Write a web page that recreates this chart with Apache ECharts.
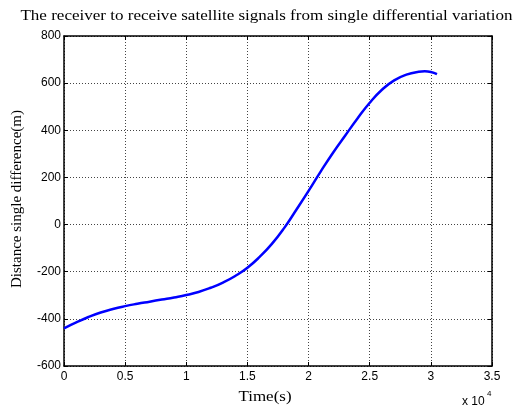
<!DOCTYPE html>
<html>
<head>
<meta charset="utf-8">
<script src="https://cdn.jsdelivr.net/npm/echarts@6/dist/echarts.min.js"></script>
<style>html,body{margin:0;padding:0;background:#fff;}#c{width:522px;height:410px;}</style>
</head>
<body>
<div id="c"></div>
<script>
const timeSeconds = [0, 1000, 2000, 3000, 4000, 5000, 6000, 7000, 8000, 9000, 10000, 11000, 12000, 13000, 14000, 15000, 16000, 17000, 18000, 19000, 20000, 21000, 22000, 23000, 24000, 25000, 26000, 27000, 28000, 29000, 29500, 30000, 30500];
const singleDiff = [-440, -415, -392, -373, -358, -346, -336, -327, -318, -309, -299, -286, -268, -246, -218, -183, -137, -82, -15, 63, 143, 226, 305, 378, 450, 517, 572, 612, 636, 648, 650, 647, 638];
const xTicks = [0, 0.5, 1, 1.5, 2, 2.5, 3, 3.5];
const yTicks = [-600, -400, -200, 0, 200, 400, 600, 800];

const chart = echarts.init(document.getElementById('c'), null, {renderer: 'canvas'});
const pts = timeSeconds.map((t, i) => [t, singleDiff[i]]);
const tickFont = {fontFamily: 'Liberation Sans, Arial', fontSize: 12, color: '#000'};
const serif = '15px "Liberation Serif", "Times New Roman"';
chart.setOption({
  animation: false,
  backgroundColor: '#fff',
  grid: {left: 64, right: 30, top: 36, bottom: 44},
  xAxis: [{
    type: 'value', min: 0, max: 35000, interval: 5000, position: 'bottom',
    axisLine: {onZero: false, lineStyle: {color: '#000', width: 1.5}},
    axisTick: {inside: true, length: 4, lineStyle: {color: '#000'}},
    axisLabel: Object.assign({margin: 5, formatter: v => String(xTicks[Math.round(v / 5000)])}, tickFont),
    splitLine: {show: true, lineStyle: {color: '#444', type: [1, 2], width: 1}}
  }, {
    type: 'value', min: 0, max: 35000, interval: 5000, position: 'top',
    axisLine: {onZero: false, lineStyle: {color: '#000', width: 1.5}},
    axisTick: {inside: true, length: 4, lineStyle: {color: '#000'}},
    axisLabel: {show: false}, splitLine: {show: false}
  }],
  yAxis: [{
    type: 'value', min: -600, max: 800, interval: 200, position: 'left',
    axisLine: {show: true, onZero: false, lineStyle: {color: '#000', width: 1.5}},
    axisTick: {show: true, inside: true, length: 4, lineStyle: {color: '#000'}},
    axisLabel: Object.assign({margin: 3, formatter: v => String(v)}, tickFont),
    splitLine: {show: true, lineStyle: {color: '#444', type: [1, 2], width: 1}}
  }, {
    type: 'value', min: -600, max: 800, interval: 200, position: 'right',
    axisLine: {show: true, onZero: false, lineStyle: {color: '#000', width: 1.5}},
    axisTick: {show: true, inside: true, length: 4, lineStyle: {color: '#000'}},
    axisLabel: {show: false}, splitLine: {show: false}
  }],
  series: [{
    type: 'line', data: pts, xAxisIndex: 0, yAxisIndex: 0,
    smooth: 0.5, showSymbol: false,
    lineStyle: {color: '#0000ff', width: 2.5}
  }],
  graphic: [
    {type: 'text', x: 266.5, y: 16, scaleX: 1.136, style: {text: 'The receiver to receive satellite signals from single differential variation', x: 0, y: 0, textAlign: 'center', textVerticalAlign: 'middle', font: serif, fill: '#000'}},
    {type: 'text', x: 265, y: 397, scaleX: 1.13, style: {text: 'Time(s)', x: 0, y: 0, textAlign: 'center', textVerticalAlign: 'middle', font: serif, fill: '#000'}},
    {type: 'text', style: {text: 'x 10', x: 462, y: 402, textVerticalAlign: 'middle', font: '12px "Liberation Sans", Arial', fill: '#000'}},
    {type: 'text', style: {text: '4', x: 487, y: 394, textVerticalAlign: 'middle', font: '8px "Liberation Sans", Arial', fill: '#000'}},
    {type: 'text', rotation: Math.PI / 2, x: 17, y: 199, style: {text: 'Distance single difference(m)', x: 0, y: 0, textAlign: 'center', textVerticalAlign: 'middle', font: serif, fill: '#000'}}
  ]
});
</script>
</body>
</html>
